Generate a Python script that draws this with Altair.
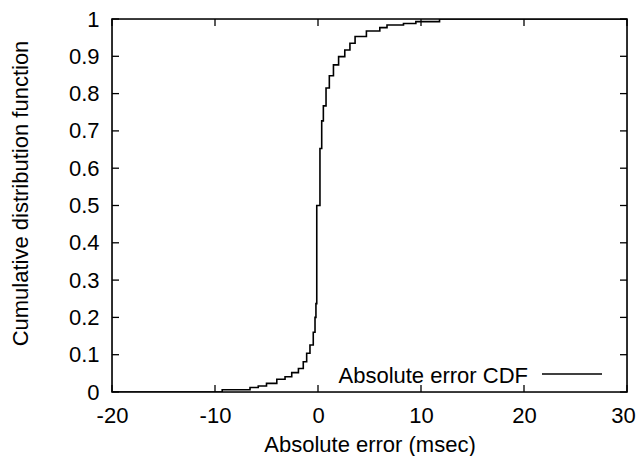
import altair as alt
import pandas as pd

# CDF step points (x in msec, cumulative fraction)
cdf_x = [-20, -9.3, -6.6, -5.8, -5.0, -4.0, -3.2, -2.55, -1.9, -1.43, -1.1, -0.78,
         -0.46, -0.29, -0.2, -0.12, 0.19, 0.36, 0.52, 0.78, 1.1, 1.5, 2.0, 2.6,
         3.1, 3.6, 4.7, 6.0, 6.7, 8.3, 9.5, 11.8, 30]
cdf_y = [0.0, 0.006, 0.012, 0.016, 0.023, 0.034, 0.041, 0.052, 0.063, 0.081, 0.104, 0.126,
         0.160, 0.200, 0.237, 0.500, 0.653, 0.727, 0.767, 0.815, 0.848, 0.877, 0.899, 0.917,
         0.935, 0.953, 0.968, 0.977, 0.984, 0.988, 0.993, 1.0, 1.0]

x_ticks = [-20, -10, 0, 10, 20, 30]
y_ticks = [0, 0.1, 0.2, 0.3, 0.4, 0.5, 0.6, 0.7, 0.8, 0.9, 1]
legend_label = ["Absolute error CDF"]

FONT = "Liberation Sans"
FS = 22
W, H = 515, 373

df = pd.DataFrame({"x": cdf_x, "y": cdf_y})
xt = pd.DataFrame({"x": x_ticks})
yt = pd.DataFrame({"y": y_ticks})
lg = pd.DataFrame({"label": legend_label})

xscale = alt.Scale(domain=[-20, 30], nice=False, zero=False)
yscale = alt.Scale(domain=[0, 1], nice=False, zero=False)

xaxis = alt.Axis(
    values=x_ticks, title="Absolute error (msec)", domain=False, ticks=False, grid=False,
    labelExpr="datum.value + ''", labelPadding=13, labelFont=FONT, labelFontSize=FS,
    labelFlush=False, labelOverlap=False,
    labelOffset={"condition": {"test": "datum.value == 30", "value": -4}, "value": 0},
    labelColor="black", titleFont=FONT, titleFontSize=FS, titleFontWeight="normal",
    titleColor="black", titleBaseline="alphabetic", titleY=59)
yaxis = alt.Axis(
    values=y_ticks, title="Cumulative distribution function", domain=False, ticks=False, grid=False,
    labelExpr="datum.value + ''", labelPadding=13, labelFont=FONT, labelFontSize=FS,
    labelFlush=False, labelOverlap=False,
    labelColor="black", titleFont=FONT, titleFontSize=FS, titleFontWeight="normal",
    titleColor="black", titleBaseline="alphabetic", titleX=-85, titleY=174)

X = alt.X("x:Q", scale=xscale, axis=xaxis, title="Absolute error (msec)")
Y = alt.Y("y:Q", scale=yscale, axis=yaxis, title="Cumulative distribution function")

line = alt.Chart(df).mark_line(interpolate="step-after", color="black", strokeWidth=1.6, clip=True).encode(
    x=X, y=Y)

tick_style = dict(color="black", strokeWidth=1.3)
xb = alt.Chart(xt).mark_rule(**tick_style).encode(x=X, y=alt.value(H), y2=alt.value(H - 7))
xtp = alt.Chart(xt).mark_rule(**tick_style).encode(x=X, y=alt.value(0), y2=alt.value(7))
yl = alt.Chart(yt).mark_rule(**tick_style).encode(y=Y, x=alt.value(0), x2=alt.value(7))
yr = alt.Chart(yt).mark_rule(**tick_style).encode(y=Y, x=alt.value(W), x2=alt.value(W - 7))

frame = alt.Chart(lg).mark_rect(fillOpacity=0, stroke="black", strokeWidth=1.6).encode(
    x=alt.value(0), x2=alt.value(W), y=alt.value(0), y2=alt.value(H))

leg_text = alt.Chart(lg).mark_text(align="right", baseline="alphabetic", font=FONT,
                                   fontSize=FS, color="black").encode(
    x=alt.value(416), y=alt.value(364), text="label:N")
leg_line = alt.Chart(lg).mark_rule(color="black", strokeWidth=1.6).encode(
    x=alt.value(430), x2=alt.value(490), y=alt.value(355))

chart = alt.layer(line, xb, xtp, yl, yr, frame, leg_text, leg_line).properties(
    width=W, height=H,
    autosize=alt.AutoSizeParams(type="none"),
    padding={"left": 104, "top": 11, "right": 9, "bottom": 64},
).configure_view(stroke=None).configure(background="white")

chart.save("out.html", embed_options={"renderer": "svg", "actions": False})
